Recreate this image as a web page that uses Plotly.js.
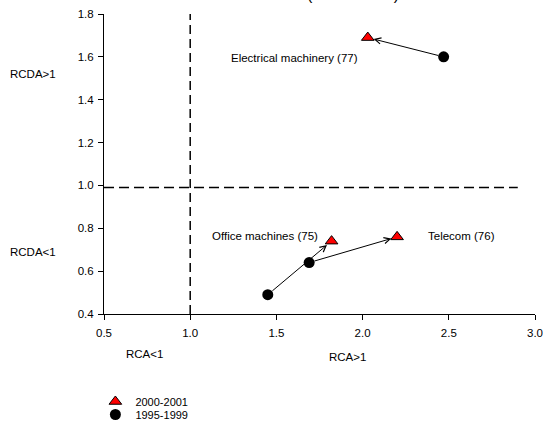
<!DOCTYPE html>
<html>
<head>
<meta charset="utf-8">
<script src="https://cdn.plot.ly/plotly-3.0.1.min.js"></script>
<style>
  html, body { margin: 0; padding: 0; background: #fff; }
  #chart { width: 543px; height: 424px; }
</style>
</head>
<body>
<div id="chart"></div>
<script>
// ---- data ----
const sectors = ["Electrical machinery (77)", "Office machines (75)", "Telecom (76)"];
const rca_1995_1999 = [2.47, 1.45, 1.69];
const rcda_1995_1999 = [1.60, 0.49, 0.64];
const rca_2000_2001 = [2.03, 1.82, 2.20];
const rcda_2000_2001 = [1.69, 0.74, 0.76];
const xTickVals = [0.5, 1.0, 1.5, 2.0, 2.5, 3.0];
const xTickText = ["0.5", "1.0", "1.5", "2.0", "2.5", "3.0"];
const yTickVals = [0.4, 0.6, 0.8, 1.0, 1.2, 1.4, 1.6, 1.8];
const yTickText = ["0.4", "0.6", "0.8", "1.0", "1.2", "1.4", "1.6", "1.8"];
const thresholdRCA = 1.0;
const thresholdRCDA = 0.99;
const hLineEnd = 2.9;
const seriesNames = ["2000-2001", "1995-1999"];

const FONT = "Liberation Sans, Arial, sans-serif";
const FS = 11.5;

// label placement (layout only)
const labelLayout = [
  {x: 1.985, y: 1.597, xanchor: "right"},
  {x: 1.755, y: 0.765, xanchor: "right"},
  {x: 2.37, y: 0.765, xanchor: "left"}
];

const traces = [
  {
    type: "scatter", mode: "markers", name: seriesNames[0], legend: "legend",
    x: rca_2000_2001, y: rcda_2000_2001,
    marker: {symbol: "triangle-up", size: 11, color: "#ff0000", line: {color: "#000", width: 1}},
    hoverinfo: "skip"
  },
  {
    type: "scatter", mode: "markers", name: seriesNames[1], legend: "legend2",
    x: rca_1995_1999, y: rcda_1995_1999,
    marker: {symbol: "circle", size: 11, color: "#000", line: {color: "#000", width: 0}},
    hoverinfo: "skip"
  }
];

const annotations = [];
// arrows from 1995-1999 to 2000-2001
for (let i = 0; i < sectors.length; i++) {
  annotations.push({
    x: rca_2000_2001[i], y: rcda_2000_2001[i], xref: "x", yref: "y",
    ax: rca_1995_1999[i], ay: rcda_1995_1999[i], axref: "x", ayref: "y",
    showarrow: true, arrowhead: 5, arrowsize: 1.2, arrowwidth: 1, arrowcolor: "#000",
    standoff: 6, startstandoff: 4, text: ""
  });
  annotations.push({
    x: labelLayout[i].x, y: labelLayout[i].y, xref: "x", yref: "y",
    xanchor: labelLayout[i].xanchor, yanchor: "middle",
    text: sectors[i], showarrow: false,
    font: {family: FONT, size: FS, color: "#000"}
  });
}
// quadrant labels
const quadFont = {family: FONT, size: FS, color: "#000"};
annotations.push({xref: "paper", yref: "paper", x: -0.165, y: 0.80, text: "RCDA>1", showarrow: false, font: quadFont, xanchor: "center", yanchor: "middle"});
annotations.push({xref: "paper", yref: "paper", x: -0.165, y: 0.207, text: "RCDA<1", showarrow: false, font: quadFont, xanchor: "center", yanchor: "middle"});
annotations.push({xref: "paper", yref: "paper", x: 0.095, y: -0.133, text: "RCA<1", showarrow: false, font: quadFont, xanchor: "center", yanchor: "middle"});
annotations.push({xref: "paper", yref: "paper", x: 0.566, y: -0.143, text: "RCA>1", showarrow: false, font: quadFont, xanchor: "center", yanchor: "middle"});
// cut-off title
annotations.push({xref: "paper", yref: "paper", x: 0.578, y: 1.064, text: "(ICT sectors)", showarrow: false,
  font: {family: FONT, size: 16, color: "#000"}, xanchor: "center", yanchor: "middle"});

const shapes = [
  {type: "line", xref: "x", yref: "y", x0: thresholdRCA, x1: thresholdRCA, y0: yTickVals[0], y1: yTickVals[yTickVals.length - 1],
   line: {color: "#000", width: 1.5, dash: "9px,5px"}},
  {type: "line", xref: "x", yref: "y", x0: xTickVals[0], x1: hLineEnd, y0: thresholdRCDA, y1: thresholdRCDA,
   line: {color: "#000", width: 1.5, dash: "10px,5px"}}
];

const legendBase = {x: -0.02, xref: "paper", yref: "container", xanchor: "left", yanchor: "top",
                    bgcolor: "rgba(0,0,0,0)", font: {family: FONT, size: 11, color: "#000"}};

const layout = {
  width: 543, height: 424,
  margin: {l: 104, r: 8, t: 14, b: 110, pad: 0},
  paper_bgcolor: "#fff", plot_bgcolor: "#fff",
  font: {family: FONT, size: FS, color: "#000"},
  showlegend: true,
  legend: Object.assign({}, legendBase, {y: 0.0873}),
  legend2: Object.assign({}, legendBase, {y: 0.0566}),
  xaxis: {
    range: [0.5, 3.0], tickmode: "array", tickvals: xTickVals, ticktext: xTickText,
    showgrid: false, zeroline: false, showline: true, linecolor: "#000", linewidth: 1,
    ticks: "outside", ticklen: 5, tickwidth: 1, tickcolor: "#000", mirror: false,
    ticklabelstandoff: 3,
    tickfont: {family: FONT, size: FS, color: "#000"}
  },
  yaxis: {
    range: [0.4, 1.8], tickmode: "array", tickvals: yTickVals, ticktext: yTickText,
    showgrid: false, zeroline: false, showline: true, linecolor: "#000", linewidth: 1,
    ticks: "outside", ticklen: 5, tickwidth: 1, tickcolor: "#000", mirror: false,
    ticklabelstandoff: 2,
    tickfont: {family: FONT, size: FS, color: "#000"}
  },
  shapes: shapes,
  annotations: annotations
};

Plotly.newPlot("chart", traces, layout, {displayModeBar: false, staticPlot: true});
</script>
</body>
</html>
